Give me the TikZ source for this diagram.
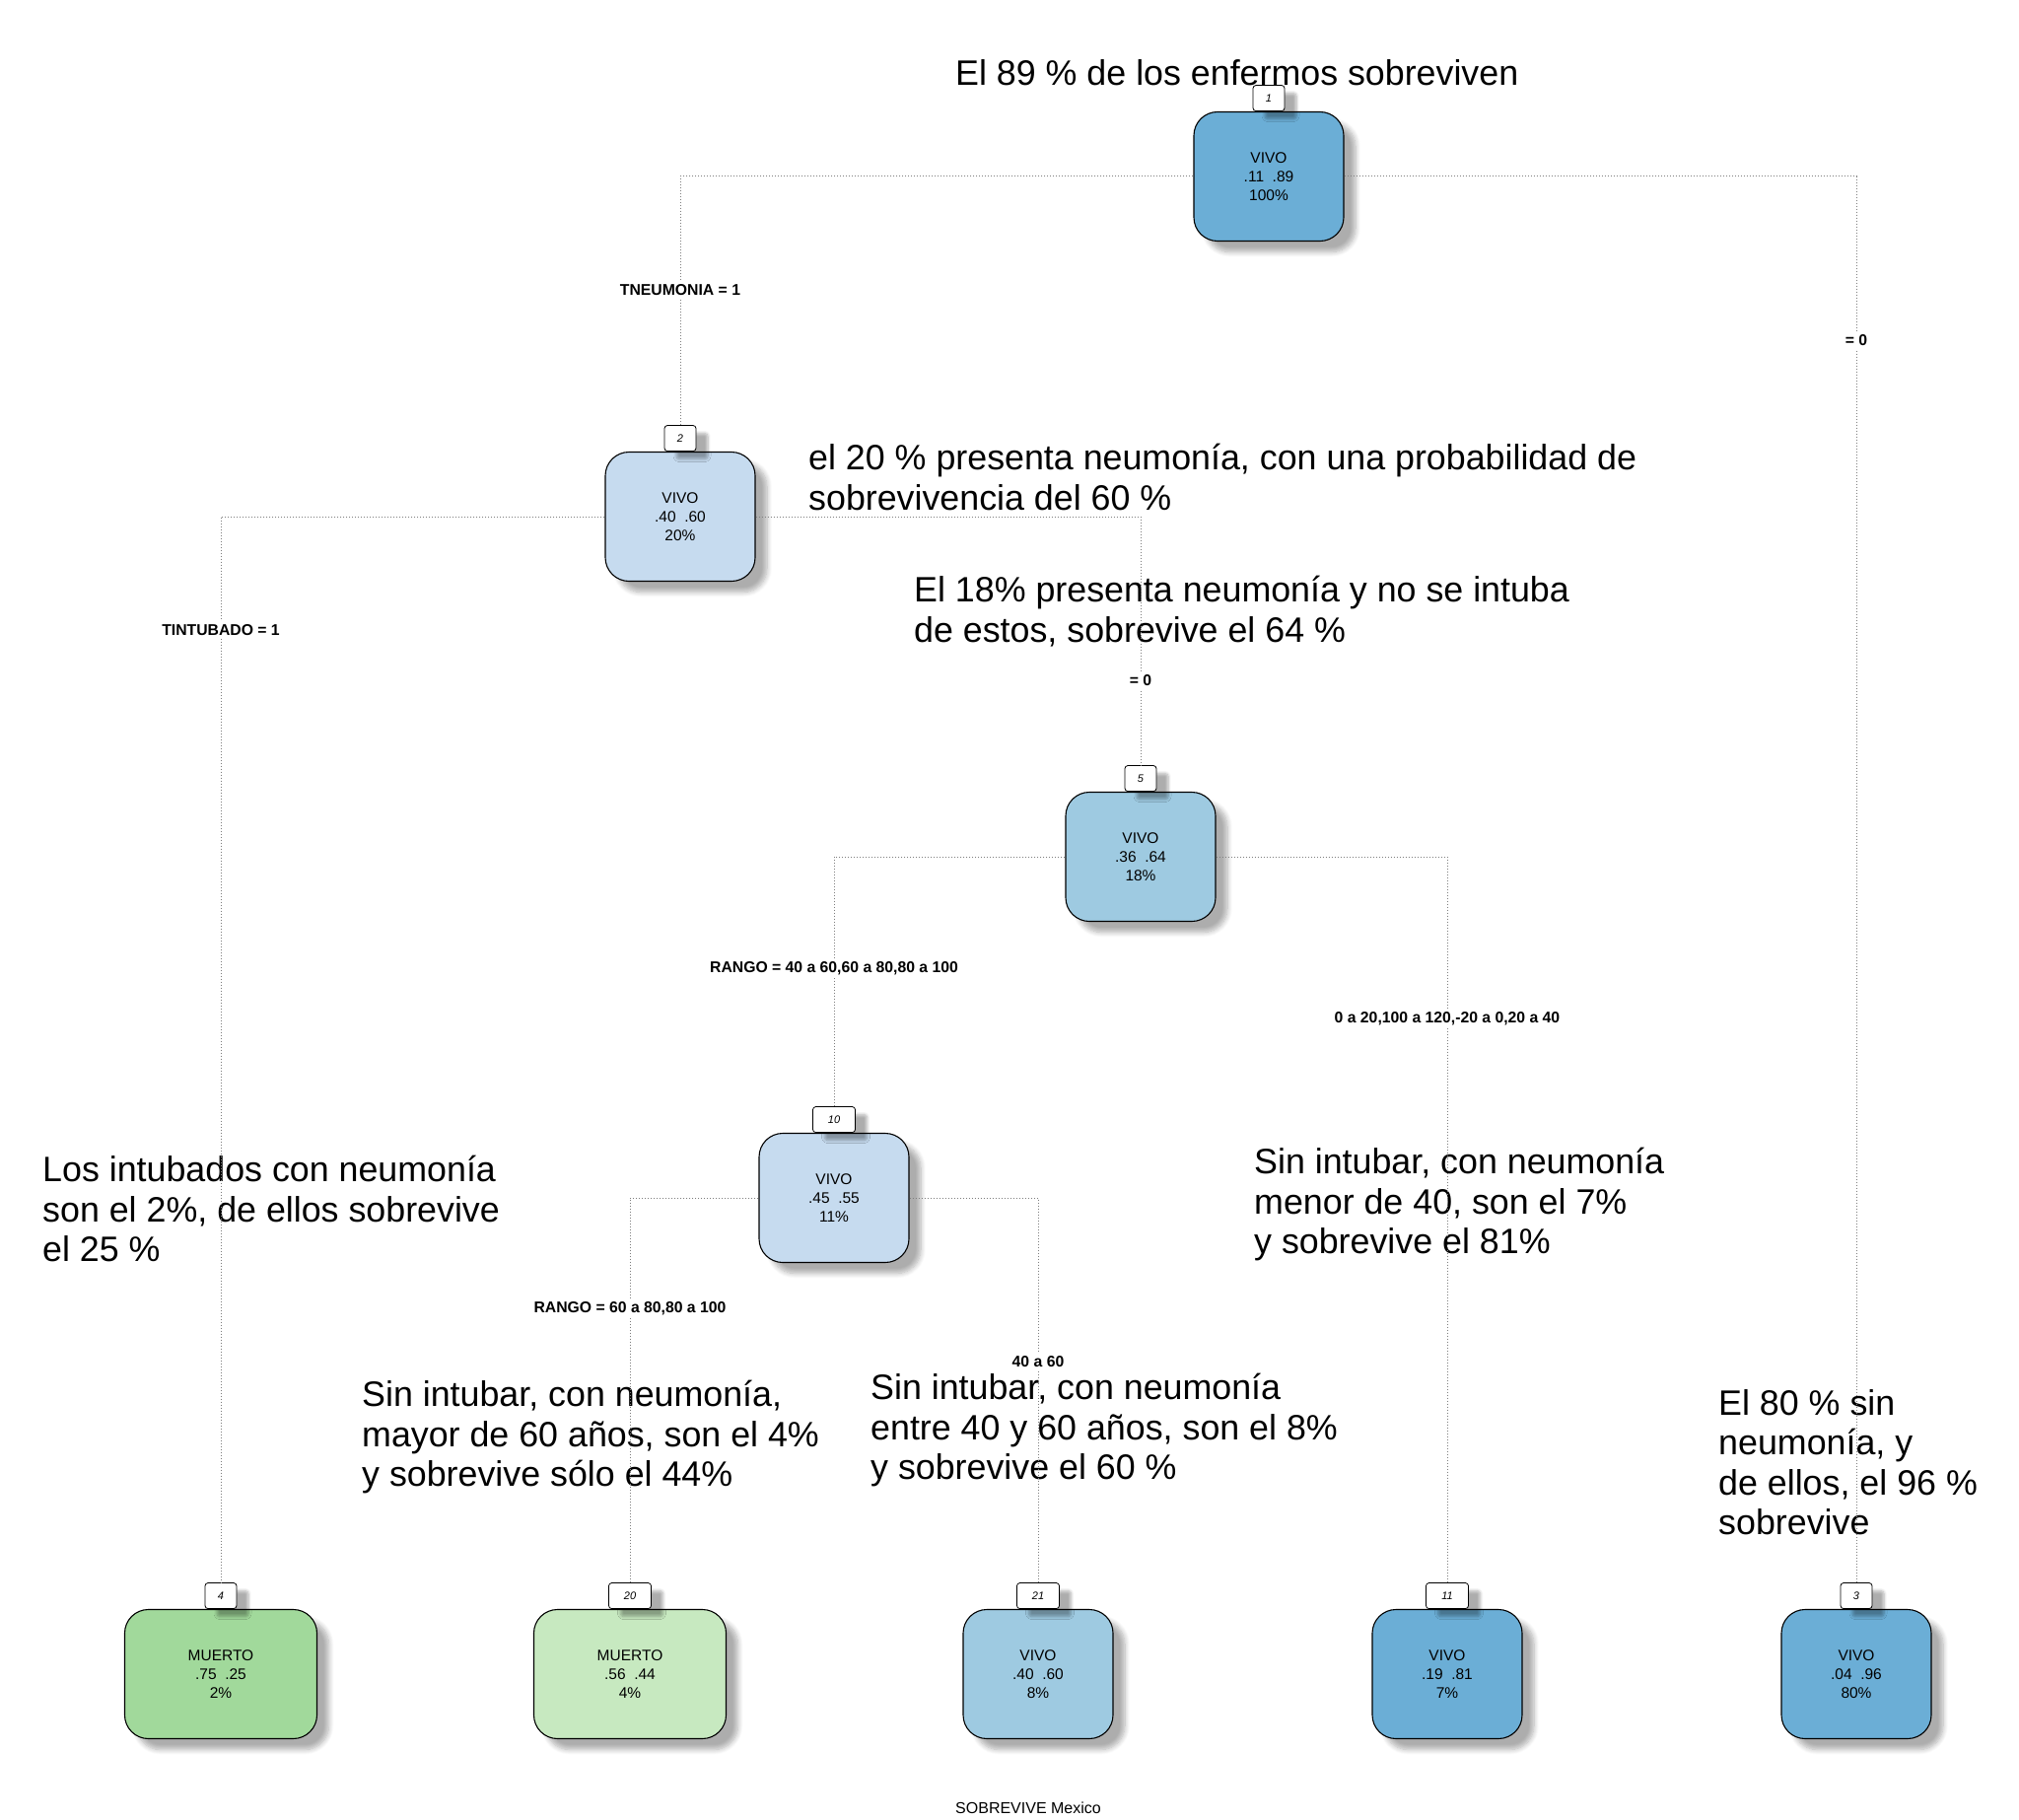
\documentclass[tikz,border=0pt]{standalone}
\usepackage{fontspec}
\setmainfont{Liberation Sans}
\usetikzlibrary{shadows.blur}

\definecolor{blueA}{HTML}{6BAED6}
\definecolor{blueB}{HTML}{9ECAE1}
\definecolor{blueC}{HTML}{C6DBEF}
\definecolor{greenA}{HTML}{A1D99B}
\definecolor{greenB}{HTML}{C7E9C0}
\definecolor{linkgray}{HTML}{7F7F7F}

\tikzset{
  softshadow/.style={blur shadow={shadow xshift=12pt, shadow yshift=-11pt,
      shadow blur radius=5pt, shadow blur steps=8, shadow opacity=32}},
  treenode/.style={draw=black, line width=1.1pt, rounded corners=24pt,
      minimum height=131pt, minimum width=152pt, inner sep=0pt, align=center,
      font=\fontsize{15.5}{19}\selectfont, softshadow},
  widenode/.style={treenode, minimum width=195pt},
  numbox/.style={draw=black, line width=0.8pt, fill=white, rounded corners=3pt,
      minimum width=32pt, minimum height=26pt, inner sep=0pt, anchor=south,
      font=\fontsize{11}{13}\selectfont\itshape,
      blur shadow={shadow xshift=12pt, shadow yshift=-8pt,
      shadow blur radius=3pt, shadow blur steps=6, shadow opacity=32}},
  widenum/.style={numbox, minimum width=43pt},
  split/.style={fill=white, inner sep=3pt,
      font=\fontsize{15.75}{18}\selectfont\bfseries},
  conn/.style={draw=linkgray, line width=1pt, dash pattern=on 1pt off 2pt},
  remark/.style={anchor=north west, align=left, inner sep=0pt,
      font=\fontsize{35.8}{40.5}\selectfont},
}

\begin{document}
\begin{tikzpicture}[x=1pt, y=-1pt]
\useasboundingbox (0,0) rectangle (2048,1846);

% commentary written over the tree
\node[remark] (t1) at (969,60) {El 89 \% de los enfermos sobreviven};
\node[remark] (t2) at (820,450) {el 20 \% presenta neumonía, con una probabilidad de\\sobrevivencia del 60 \%};
\node[remark] (t3) at (927,584) {El 18\% presenta neumonía y no se intuba\\de estos, sobrevive el 64 \%};
\node[remark] (t4) at (43,1172) {Los intubados con neumonía\\son el 2\%, de ellos sobrevive\\el 25 \%};
\node[remark] (t5) at (1272,1164) {Sin intubar, con neumonía\\menor de 40, son el 7\%\\y sobrevive el 81\%};
\node[remark] (t6) at (367,1400) {Sin intubar, con neumonía,\\mayor de 60 años, son el 4\%\\y sobrevive sólo el 44\%};
\node[remark] (t7) at (883,1393) {Sin intubar, con neumonía\\entre 40 y 60 años, son el 8\%\\y sobrevive el 60 \%};
\node[remark] (t8) at (1743,1409) {El 80 \% sin\\neumonía, y\\de ellos, el 96 \%\\sobrevive};

% tree nodes
\node[treenode, fill=blueA] (n1) at (1287,179) {VIVO\\.11\ \ .89\\100\%};
\node[treenode, fill=blueC] (n2) at (690,524) {VIVO\\.40\ \ .60\\20\%};
\node[treenode, fill=blueB] (n5) at (1157,869) {VIVO\\.36\ \ .64\\18\%};
\node[treenode, fill=blueC] (n10) at (846,1215) {VIVO\\.45\ \ .55\\11\%};
\node[widenode, fill=greenA] (n4) at (224,1698) {MUERTO\\.75\ \ .25\\2\%};
\node[widenode, fill=greenB] (n20) at (639,1698) {MUERTO\\.56\ \ .44\\4\%};
\node[treenode, fill=blueB] (n21) at (1053,1698) {VIVO\\.40\ \ .60\\8\%};
\node[treenode, fill=blueA] (n11) at (1468,1698) {VIVO\\.19\ \ .81\\7\%};
\node[treenode, fill=blueA] (n3) at (1883,1698) {VIVO\\.04\ \ .96\\80\%};

% node numbers
\node[numbox] (l1) at (n1.north) {1};
\node[numbox] (l2) at (n2.north) {2};
\node[numbox] (l5) at (n5.north) {5};
\node[widenum] (l10) at (n10.north) {10};
\node[numbox] (l4) at (n4.north) {4};
\node[widenum] (l20) at (n20.north) {20};
\node[widenum] (l21) at (n21.north) {21};
\node[widenum] (l11) at (n11.north) {11};
\node[numbox] (l3) at (n3.north) {3};

% branches
\draw[conn] (n1) -| (l2.north);
\draw[conn] (n1) -| (l3.north);
\draw[conn] (n2) -| (l4.north);
\draw[conn] (n2) -| (l5.north);
\draw[conn] (n5) -| (l10.north);
\draw[conn] (n5) -| (l11.north);
\draw[conn] (n10) -| (l20.north);
\draw[conn] (n10) -| (l21.north);

% split labels
\node[split] (s2) at (690,294) {TNEUMONIA = 1};
\node[split] (s3) at (1883,345) {= 0};
\node[split] (s4) at (224,639) {TINTUBADO = 1};
\node[split] (s5) at (1157,690) {= 0};
\node[split] (s10) at (846,982) {RANGO = 40 a 60,60 a 80,80 a 100};
\node[split] (s11) at (1468,1033) {0 a 20,100 a 120,-20 a 0,20 a 40};
\node[split] (s20) at (639,1327) {RANGO = 60 a 80,80 a 100};
\node[split] (s21) at (1053,1381) {40 a 60};

% caption
\node[font=\fontsize{16}{19}\selectfont] (cap) at (1043,1834) {SOBREVIVE Mexico};
\end{tikzpicture}
\end{document}
